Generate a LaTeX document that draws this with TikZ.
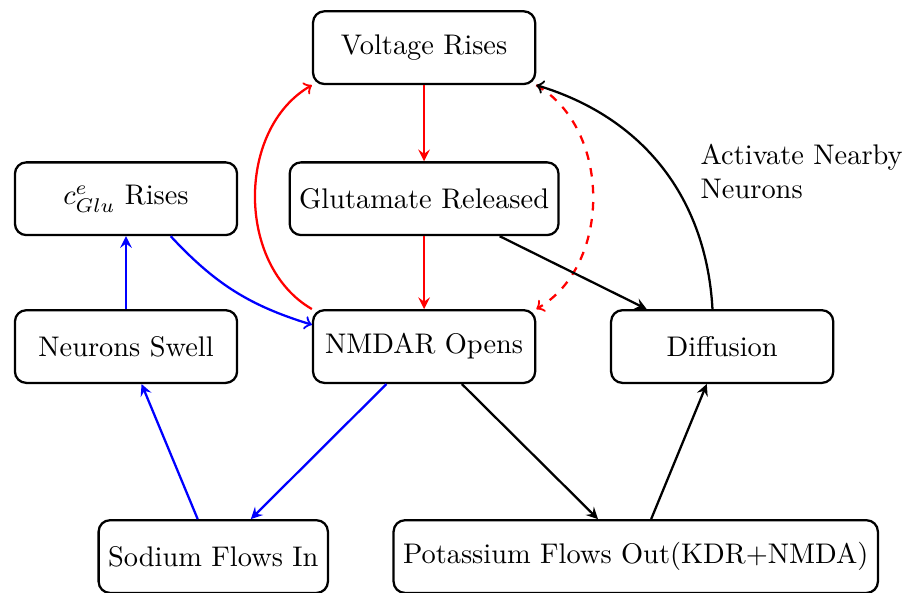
\documentclass[tikz,border=0pt]{standalone}
\usetikzlibrary{arrows}
\tikzset{
	stepbox/.style={draw, thick, rounded corners, minimum width=2.75cm, minimum height=0.9cm},
	flow/.style={thick, -stealth},
	loop/.style={thick, ->}
}
\begin{document}
\begin{tikzpicture}

\useasboundingbox (0,0) rectangle (11.29,-7.33);

\node[stepbox] (voltage) at (5.25,-0.59) {Voltage Rises};
\node[stepbox] (glut) at (5.25,-2.46) {Glutamate Released};
\node[stepbox] (cglu) at (1.56,-2.46) {$c^e_{Glu}$ Rises};
\node[stepbox] (swell) at (1.56,-4.29) {Neurons Swell};
\node[stepbox] (nmdar) at (5.25,-4.29) {NMDAR Opens};
\node[stepbox] (diff) at (8.94,-4.29) {Diffusion};
\node[stepbox] (sodium) at (2.64,-6.89) {Sodium Flows In};
\node[stepbox] (potass) at (7.87,-6.89) {Potassium Flows Out(KDR+NMDA)};
\node[anchor=west, align=left] (activ) at (8.55,-2.12) {Activate Nearby\\Neurons};

% red loop
\draw[flow, red] (voltage) -- (glut);
\draw[flow, red] (glut) -- (nmdar);
\draw[loop, red] (nmdar.north west) to[bend left=60] (voltage.south west);
\draw[loop, red, dashed] (voltage.south east) to[bend left=60] (nmdar.north east);

% blue loop
\draw[flow, blue] (nmdar) -- (sodium);
\draw[flow, blue] (sodium) -- (swell);
\draw[flow, blue] (swell) -- (cglu);
\draw[loop, blue] (cglu.-40) to[bend right=15] (nmdar.169);

% black
\draw[flow] (glut) -- (diff);
\draw[flow] (nmdar) -- (potass);
\draw[flow] (potass) -- (diff);
\draw[loop] ([xshift=-0.12cm]diff.north) to[bend right=35] (voltage.south east);

\end{tikzpicture}
\end{document}
